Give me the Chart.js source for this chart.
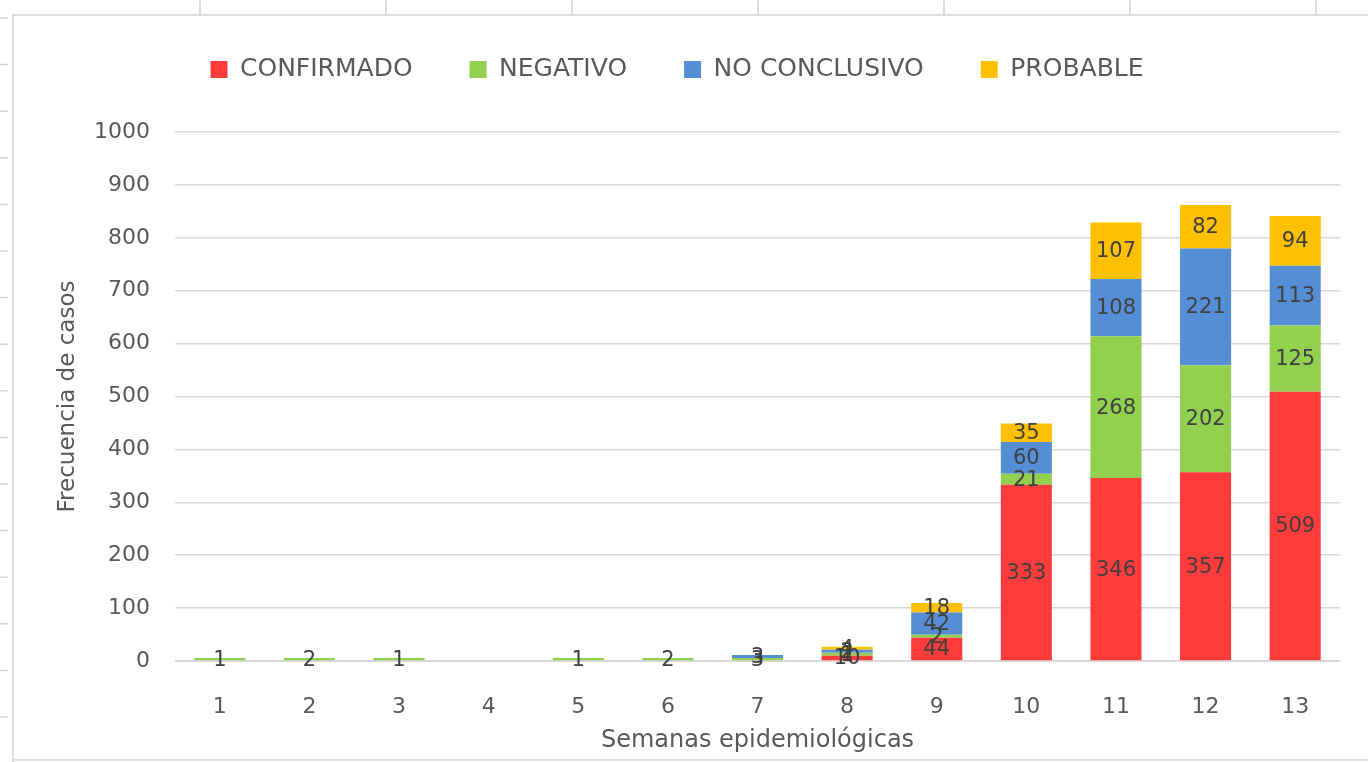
<!DOCTYPE html>
<html>
<head>
<meta charset="utf-8">
<script src="https://cdn.jsdelivr.net/npm/chart.js@4/dist/chart.umd.min.js"></script>
<style>
  html, body { margin: 0; padding: 0; background: #fff; }
  #wrap { width: 1368px; height: 762px; position: relative; }
</style>
</head>
<body>
<div id="wrap"><canvas id="c"></canvas></div>
<script>
// ── Data ──────────────────────────────────────────────────────────────────
const weeks        = ['1','2','3','4','5','6','7','8','9','10','11','12','13'];
const confirmado   = [0, 0, 0, 0, 0, 0, 0, 10, 44, 333, 346, 357, 509];
const negativo     = [1, 2, 1, 0, 1, 2, 3, 1, 2, 21, 268, 202, 125];
const noConclusivo = [0, 0, 0, 0, 0, 0, 3, 2, 42, 60, 108, 221, 113];
const probable     = [0, 0, 0, 0, 0, 0, 0, 4, 18, 35, 107, 82, 94];
const yTicks       = [0, 100, 200, 300, 400, 500, 600, 700, 800, 900, 1000];

const FONT  = "'DejaVu Sans', sans-serif";
const GRID  = '#d9d9d9';
const TEXT  = '#595959';

// Value labels centred in each stacked segment
const segLabels = {
  id: 'segLabels',
  afterDatasetsDraw(chart) {
    const ctx = chart.ctx;
    ctx.save();
    ctx.font = '21px ' + FONT;
    ctx.fillStyle = '#404040';
    ctx.textAlign = 'center';
    ctx.textBaseline = 'middle';
    chart.data.datasets.forEach((ds, i) => {
      const meta = chart.getDatasetMeta(i);
      meta.data.forEach((bar, j) => {
        const v = ds.data[j];
        if (!v) return;
        const p = bar.getProps(['x', 'y', 'base'], true);
        ctx.fillText(String(v), p.x, (p.y + p.base) / 2 + 1);
      });
    });
    ctx.restore();
  }
};

// Fixed legend band height
const legendBand = {
  id: 'legendBand',
  beforeLayout(chart) {
    const lg = chart.legend;
    if (!lg || lg._patched) return;
    const fit = lg.fit;
    lg.fit = function () { fit.call(this); this.height = 132; };
    lg._patched = true;
  }
};

// Spreadsheet frame around the chart object
const sheetFrame = {
  id: 'sheetFrame',
  afterDraw(chart) {
    const ctx = chart.ctx;
    ctx.save();
    ctx.strokeStyle = '#d4d4d4';
    ctx.lineWidth = 1.5;
    ctx.beginPath();
    ctx.moveTo(13, 762); ctx.lineTo(13, 15); ctx.lineTo(1368, 15);
    ctx.moveTo(13, 760); ctx.lineTo(1368, 760);
    for (let x = 200; x < 1368; x += 186) { ctx.moveTo(x, 0); ctx.lineTo(x, 15); }
    for (let y = 18; y < 762; y += 46.6) { ctx.moveTo(0, y); ctx.lineTo(8, y); }
    ctx.stroke();
    ctx.restore();
  }
};

// zero segments are left out so that minBarLength only lifts the tiny ones
const mk = (label, data, color) => ({
  label, data: data.map(v => v || null), backgroundColor: color, borderWidth: 0,
  stack: 's', barPercentage: 0.57, categoryPercentage: 1, minBarLength: 3,
});

new Chart(document.getElementById('c'), {
  type: 'bar',
  data: {
    labels: weeks,
    datasets: [
      mk('CONFIRMADO',    confirmado,   '#ff3b3b'),
      mk('NEGATIVO',      negativo,     '#92d050'),
      mk('NO CONCLUSIVO', noConclusivo, '#558ed5'),
      mk('PROBABLE',      probable,     '#ffc000'),
    ]
  },
  options: {
    responsive: true, maintainAspectRatio: false, animation: false,
    layout: { padding: { top: 0, left: 14, right: 28, bottom: 0 } },
    plugins: {
      legend: {
        position: 'top',
        labels: {
          boxWidth: 17, boxHeight: 17, padding: 57,
          color: TEXT, font: { family: FONT, size: 25 }
        }
      },
      tooltip: { enabled: false }
    },
    scales: {
      x: {
        stacked: true,
        grid: { display: false },
        border: { display: true, color: GRID },
        ticks: { color: TEXT, padding: 25, font: { family: FONT, size: 22 } },
        title: {
          display: true, text: 'Semanas epidemiológicas', color: TEXT,
          font: { family: FONT, size: 24 }, padding: { top: 0, bottom: 7 }
        },
        afterFit: s => { s.height = 101; }
      },
      y: {
        stacked: true, min: 0, max: 1000,
        afterBuildTicks: s => { s.ticks = yTicks.map(v => ({ value: v })); },
        grid: { color: GRID, lineWidth: 1.5, drawTicks: false },
        border: { display: false },
        ticks: { color: TEXT, padding: 25, font: { family: FONT, size: 22 },
                 callback: v => String(v) },
        title: {
          display: true, text: 'Frecuencia de casos', color: TEXT,
          font: { family: FONT, size: 23 }, padding: { top: 40, bottom: 0 }
        },
        afterFit: s => { s.width = 161; }
      }
    }
  },
  plugins: [segLabels, legendBand, sheetFrame]
});
</script>
</body>
</html>
